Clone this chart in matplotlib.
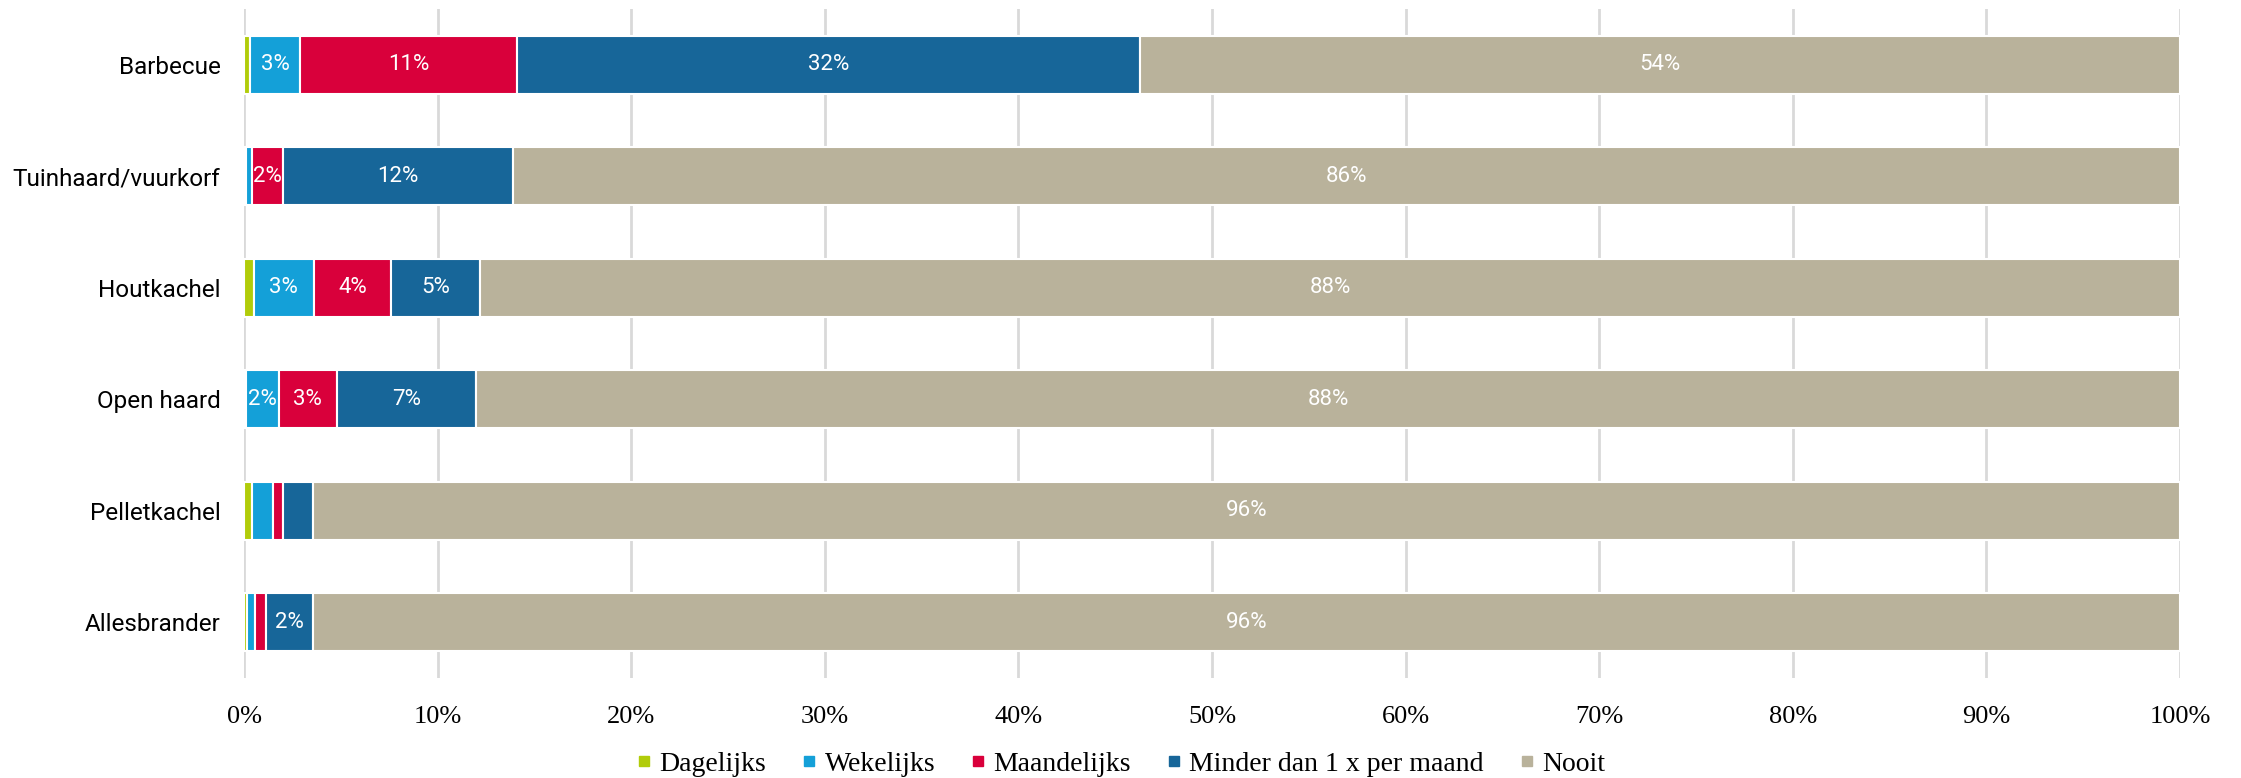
import matplotlib
matplotlib.use("Agg")
import matplotlib.pyplot as plt
from matplotlib.lines import Line2D
import numpy as np

# data (percent of respondents)
categories = ["Barbecue", "Tuinhaard/vuurkorf", "Houtkachel", "Open haard", "Pelletkachel", "Allesbrander"]
series_names = ["Dagelijks", "Wekelijks", "Maandelijks", "Minder dan 1 x per maand", "Nooit"]
dagelijks = [0.3, 0.1, 0.5, 0.1, 0.4, 0.15]
wekelijks = [2.6, 0.3, 3.1, 1.7, 1.1, 0.4]
maandelijks = [11.2, 1.6, 4.0, 3.0, 0.5, 0.6]
minder = [32.2, 11.9, 4.6, 7.2, 1.55, 2.4]
nooit = [53.7, 86.1, 87.8, 88.0, 96.45, 96.45]

colors = ["#b1cc0a", "#14a0d8", "#d9003b", "#176699", "#b9b29b"]
label_min = 1.6

series = [dagelijks, wekelijks, maandelijks, minder, nooit]

fig = plt.figure(figsize=(22.41, 7.78), dpi=100)
ax = fig.add_axes([244 / 2241, 1 - 678 / 778, (2180 - 244) / 2241, (678 - 9) / 778])

y = np.arange(len(categories))
left = np.zeros(len(categories))
for name, vals, col in zip(series_names, series, colors):
    vals = np.array(vals)
    bars = ax.barh(y, vals, left=left, height=0.52, color=col,
                   edgecolor="white", linewidth=1.5, zorder=3, label=name)
    for b, v in zip(bars, vals):
        if v >= label_min:
            ax.text(b.get_x() + b.get_width() / 2, b.get_y() + b.get_height() / 2,
                    "%.0f%%" % v, ha="center", va="center", color="white",
                    fontsize=16, family="Roboto", zorder=4)
    left += vals

ax.set_xlim(0, 100)
ax.set_ylim(len(categories) - 0.5, -0.5)
ax.set_xticks(np.arange(0, 101, 10))
ax.set_xticklabels(["%d%%" % t for t in range(0, 101, 10)], family="Liberation Serif", fontsize=19)
ax.set_yticks(y)
ax.set_yticklabels(categories, family="Roboto", fontsize=17.5)
ax.tick_params(axis="both", length=0)
ax.tick_params(axis="y", pad=17)
ax.tick_params(axis="x", pad=20)
ax.grid(axis="x", color="#d9d9d9", linewidth=2, zorder=0)
for s in ax.spines.values():
    s.set_visible(False)

handles = [Line2D([], [], marker="s", linestyle="", markersize=6.5, color=c) for c in colors]
fig.legend(handles, series_names, loc="center", bbox_to_anchor=(0.5, 1 - 764 / 778),
           ncol=5, frameon=False, prop={"family": "Liberation Serif", "size": 20},
           handlelength=0.6, handletextpad=0.25, columnspacing=1.25)

fig.savefig("out.png", dpi=100)
